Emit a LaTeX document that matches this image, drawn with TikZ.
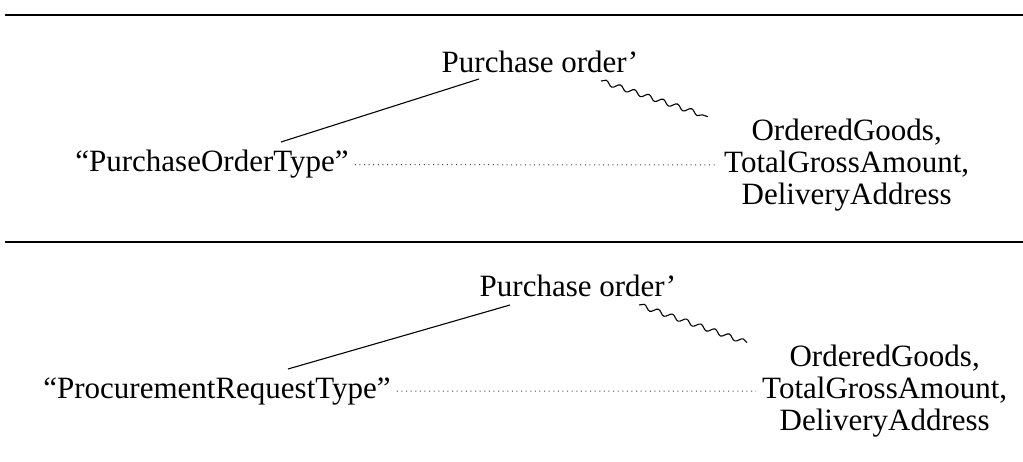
\documentclass[tikz,border=0pt]{standalone}
\usepackage{fontspec}
\setmainfont{Liberation Serif}
\usetikzlibrary{decorations.pathmorphing}

\tikzset{
  lbl/.style={font=\fontsize{31}{32}\selectfont, inner sep=6pt, anchor=base},
  attrs/.style={font=\fontsize{31}{32}\selectfont, inner sep=6pt, align=center, anchor=west},
  isa/.style={line width=1.1pt},
  sense/.style={line width=1.1pt, decorate, decoration={snake, segment length=15pt, amplitude=2.4pt}},
  same/.style={line width=1pt, black!75, dash pattern=on 1pt off 3.6pt},
}

\begin{document}
\begin{tikzpicture}[x=1pt,y=-1pt]
\useasboundingbox (0,0) rectangle (1023,462);

% upper case
\draw[line width=2pt] (5,15) -- (1023,15);
\node[lbl] (po1) at (540,73) {Purchase order'};
\node[lbl] (ty1) at (212,172) {``PurchaseOrderType''};
\node[attrs] (at1) at (718,165) {OrderedGoods,\\TotalGrossAmount,\\DeliveryAddress};
\draw[isa] ([xshift=-61pt,yshift=-6pt]po1.base) -- ([xshift=69pt,yshift=30pt]ty1.base);
\draw[sense] ([xshift=61pt,yshift=-8pt]po1.base) -- ([xshift=-10pt,yshift=-4pt]at1.north west);
\draw[same] (ty1.east) -- (at1.west);

% lower case
\draw[line width=1.6pt] (5,242) -- (1023,242);
\node[lbl] (po2) at (578,297) {Purchase order'};
\node[lbl] (ty2) at (217,398) {``ProcurementRequestType''};
\node[attrs] (at2) at (756,391) {OrderedGoods,\\TotalGrossAmount,\\DeliveryAddress};
\draw[isa] ([xshift=-68pt,yshift=-8pt]po2.base) -- ([xshift=71pt,yshift=29pt]ty2.base);
\draw[sense] ([xshift=61pt,yshift=-8pt]po2.base) -- ([xshift=-9pt,yshift=-4pt]at2.north west);
\draw[same] (ty2.east) -- (at2.west);
\end{tikzpicture}
\end{document}
